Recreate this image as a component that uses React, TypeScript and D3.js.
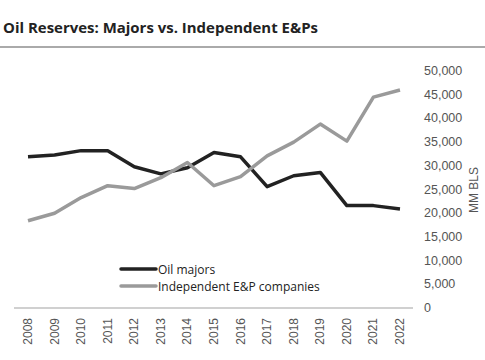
import React from "react";
import * as d3 from "d3";

const years = [2008, 2009, 2010, 2011, 2012, 2013, 2014, 2015, 2016, 2017, 2018, 2019, 2020, 2021, 2022];
const oilMajors = [31900, 32300, 33200, 33200, 29800, 28300, 29600, 32800, 31900, 25600, 27900, 28600, 21600, 21600, 20900];
const independents = [18400, 20000, 23300, 25800, 25200, 27500, 30700, 25800, 27700, 32100, 35000, 38800, 35200, 44500, 46000];
const yTicks = [0, 5000, 10000, 15000, 20000, 25000, 30000, 35000, 40000, 45000, 50000];
const seriesNames = ["Oil majors", "Independent E&P companies"];
const seriesColors = ["#222222", "#9a9a9a"];

export default function App() {
  const W = 485, H = 360;
  const x = d3.scalePoint<number>().domain(years).range([28, 400]);
  const y = d3.scaleLinear().domain([0, 50000]).range([308, 71]);
  const line = d3.line<number>().x((_, i) => x(years[i])!).y((d) => y(d));
  const fmt = d3.format(",");
  const series = [oilMajors, independents];
  return (
    <svg width={W} height={H} style={{ position: "absolute", left: 0, top: 0 }}>
      <rect width={W} height={H} fill="#fff" />
      <text x={3} y={33} fontFamily="'Open Sans', Lato, sans-serif" fontWeight={700} fontSize={15} fill="#222" textLength={315} lengthAdjust="spacingAndGlyphs">
        Oil Reserves: Majors vs. Independent E&amp;Ps
      </text>
      <line x1={0} x2={W} y1={47} y2={47} stroke="#aaa" strokeWidth={2} />
      <line x1={14} x2={413} y1={y(0)} y2={y(0)} stroke="#d0d0d0" strokeWidth={2} />
      {yTicks.map((t) => (
        <text key={t} x={424} y={y(t) + 4} fontFamily="'Liberation Sans', Arial, sans-serif" fontSize={12.5} fill="#555">
          {fmt(t)}
        </text>
      ))}
      <text transform={`translate(478,190) rotate(-90)`} textAnchor="middle" fontFamily="'Liberation Sans', Arial, sans-serif" fontSize={12} fill="#555">
        MM BLS
      </text>
      {years.map((yr) => (
        <text key={yr} transform={`translate(${x(yr)! + 4},318) rotate(-90)`} textAnchor="end" fontFamily="'Liberation Sans', Arial, sans-serif" fontSize={12} fill="#555">
          {yr}
        </text>
      ))}
      {series.map((s, i) => (
        <path key={i} d={line(s)!} fill="none" stroke={seriesColors[i]} strokeWidth={3.5} strokeLinejoin="round" />
      ))}
      {seriesNames.map((n, i) => (
        <g key={n} transform={`translate(121,${269 + i * 17})`}>
          <line x1={0} x2={35} y1={0} y2={0} stroke={seriesColors[i]} strokeWidth={3.5} strokeLinecap="round" />
          <text x={37} y={4.5} fontFamily="'Open Sans', Lato, sans-serif" fontSize={12} fill="#222">
            {n}
          </text>
        </g>
      ))}
    </svg>
  );
}
